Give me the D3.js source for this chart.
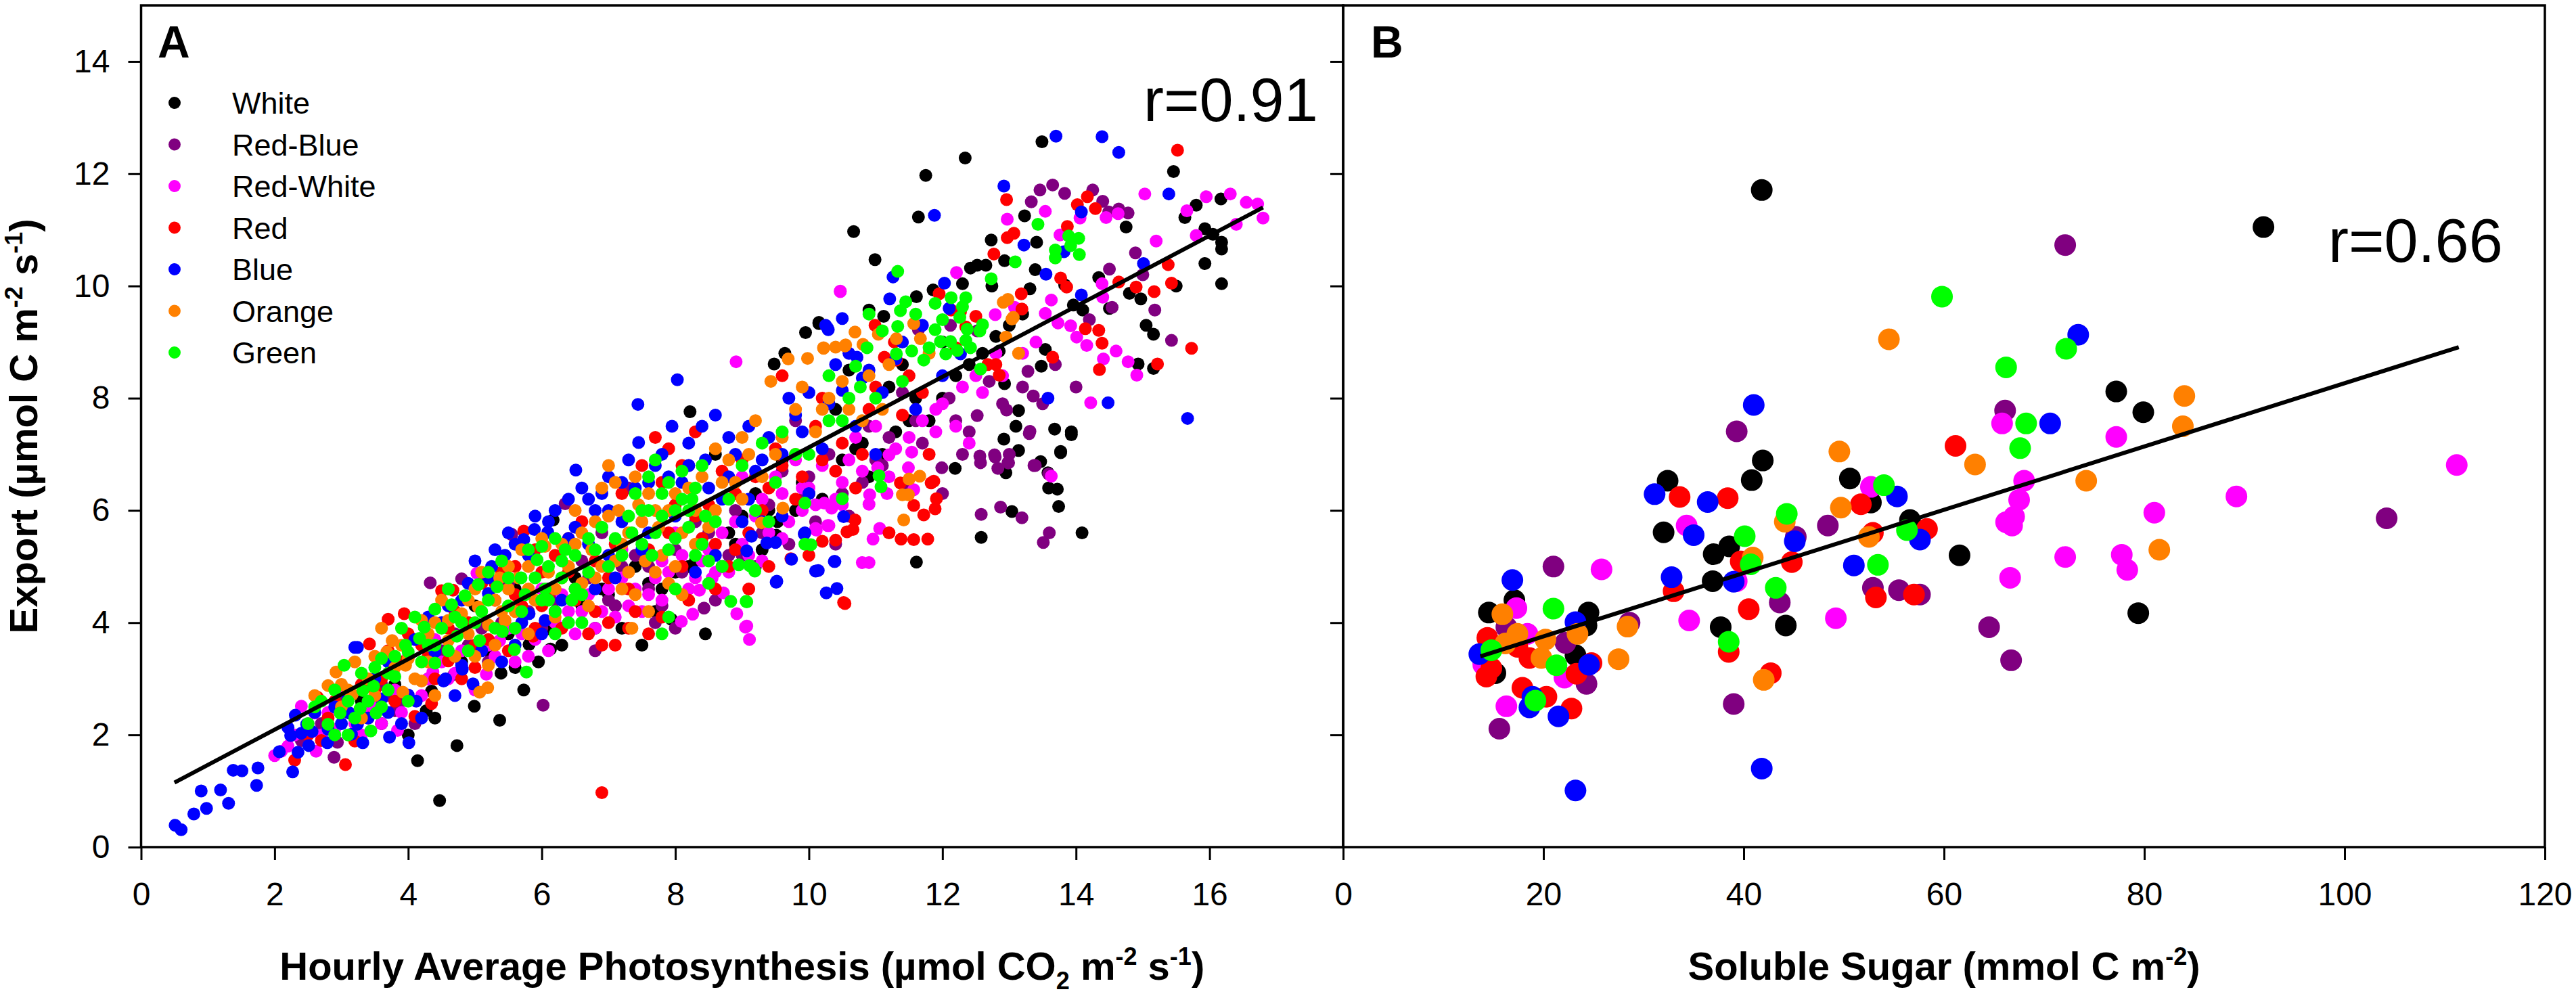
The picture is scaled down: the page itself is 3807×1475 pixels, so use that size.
<!DOCTYPE html>
<html>
<head>
<meta charset="utf-8">
<script src="https://cdn.jsdelivr.net/npm/d3@7/dist/d3.min.js"></script>
<style>
  body { margin: 0; background: #fff; }
  svg text { font-family: "Liberation Sans", Arial, sans-serif; }
</style>
</head>
<body>
<div id="chart"></div>
<script>
// 系列名称与颜色 (图例顺序即绘制顺序)
const seriesNames = ['White', 'Red-Blue', 'Red-White', 'Red', 'Blue', 'Orange', 'Green']
const seriesColors = ['#000000', '#800080', '#ff00ff', '#ff0000', '#0000ff', '#ff8000', '#00ff00']

// A: Hourly Average Photosynthesis vs Export
const photoWhite = [[4.47,0.83],[4.14,1.54],[4.73,1.81],[5.37,2.26],[4.99,2.51],[5.73,2.8],[5.95,3.3],[6.13,3.53],[5.81,3.61],[5.39,3.1],[4.27,2.43],[4.35,2.78],[4.69,3.08],[6.09,3.89],[6.17,5.83],[3.3,2.6],[3.8,2.9],[5,4.3],[5.6,4.6],[6.6,4.3],[6.9,4.6],[7.2,3.9],[7.5,3.6],[7.94,4.06],[8.45,3.8],[7.8,4.6],[8.2,5],[8.8,5.6],[9.2,6.3],[9.6,6.9],[9.9,6.5],[8.6,7],[8.22,7.76],[9.48,8.61],[9.64,8.8],[10.15,9.35],[9.95,9.17],[9.53,5.8],[9.51,5.56],[11.61,5.08],[12.58,5.52],[13.04,5.98],[14.09,5.6],[13.74,6.07],[13.59,6.4],[13.72,6.38],[13.58,6.67],[13.47,6.87],[13.77,7.03],[13.93,7.35],[13.14,7.07],[12.95,6.67],[12.19,6.75],[12.92,7.27],[13.68,7.45],[13.93,7.4],[13.77,7.05],[13.14,7.78],[13.54,8.87],[13.48,8.57],[12.93,8.26],[12.85,8.84],[13.31,9.95],[13.39,10.29],[13.83,10.02],[12.73,10.82],[12.93,10.45],[13.41,10.78],[12.42,10.32],[12.3,10.04],[12.65,10.37],[12.52,10.37],[12.74,10],[11.86,9.93],[11.61,9.81],[10.9,9.57],[11.12,9.46],[10.15,9.33],[13.49,12.57],[12.34,12.28],[11.75,11.97],[15.46,12.04],[11.64,11.23],[10.67,10.97],[10.99,10.47],[13.23,11.25],[14.75,11.05],[15.8,11.44],[16.17,11.55],[15.63,11.22],[15.93,11.02],[16.05,10.92],[16.18,10.78],[16.18,10.66],[15.93,10.4],[16.18,10.04],[14.8,9.87],[14.97,9.77],[14.34,10.15],[15.05,9.3],[15.16,9.14],[14.93,8.61],[15.16,8.53],[14.1,9.57],[13.96,9.66],[10.4,7.8],[10.8,7.2],[11.2,8.2],[11.5,7.6],[12,8],[10.6,8.5],
  [3.6,2.2],[4,2],[4.4,2.3],[5.2,3.5],[5.6,3.2],[6.3,3.6],[6.5,4.8],[6.8,3.9],[7.1,4.3],[7.4,5],[7.7,4.2],[8,4.9],[8.4,5.4],[8.7,5],[9,5.9],[9.3,5.3],[9.8,6],[10.2,6.2],[10.5,6.9],[10.9,6.6],[11.3,7.4],[11.8,7.6],[12.2,8.4],[12.6,8.8],[13,9.3],[12,9],[11.4,8.6],[14.5,9.6],[15.5,10],[13.1,7.5],
  [4.8,3.3],[5.5,3.8],[6.2,4.2],[7,4.5],[7.6,4.7],[8.3,5.1],[8.9,5.4],[9.4,6],[10,6.3],[10.7,7.1],[11.1,7],[11.6,8],[12.4,8.6],[12.8,9.1],[13.2,9.5]]
const photoRedBlue = [[2.89,1.6],[2.94,1.87],[4.33,4.71],[4.8,4.78],[5.55,5.57],[6.02,2.53],[3.8,2.43],[5.54,5.58],[6.35,6.12],[8.43,4.26],[7,4.4],[7.6,5],[8,3.9],[9,5.2],[9.4,6.1],[10,6.6],[10.4,5.4],[10.6,5.9],[11,6.9],[11.99,6.76],[12.56,6.97],[12.57,6.85],[12.79,6.95],[12.99,6.85],[12.83,6.75],[13.37,6.8],[13.3,7.37],[12.58,5.93],[12.87,6.06],[13.19,5.87],[13.6,5.6],[13.51,5.43],[13.36,8.04],[13.31,7.41],[13.39,6.8],[13.59,6.65],[13.69,8.6],[13.28,8.48],[12.52,7.69],[12.78,6.99],[12.98,6.85],[12.96,7.79],[12.12,9.3],[12.52,9.2],[11.64,9.22],[14.54,9.62],[14.89,10.59],[15.18,9.57],[15.43,9.03],[13.46,11.71],[13.65,11.8],[13.83,11.65],[13.33,11.5],[14.25,11.71],[14.4,11.51],[14.49,11.32],[14.78,11.3],[14.64,11.37],[3.2,2.3],[3.6,2.9],[4.1,2.2],[5.1,3.9],[6.6,5.1],[7.3,6.4],[8.2,6.8],[9.8,7.6],[11.4,8.1],[10.9,7.5],[11.5,6.4],[12.2,7.6],[14.2,9.4],[15,10.2],[2.4,1.9],[3,2.6],[4.5,3.5],[5.8,4.2],[6.8,3.5],[7.8,4.3],[9.7,5.4],
  [2.7,2.2],[3.4,2.6],[3.9,2.6],[4.3,3],[4.7,3.8],[5.2,3.3],[5.5,4.7],[6,3.9],[6.2,4.4],[6.5,4.6],[6.9,5.6],[7.1,4.3],[7.4,5.2],[7.7,4],[8,5.3],[8.3,5.8],[8.6,4.4],[8.9,6],[9.2,5],[9.6,6.7],[10.1,5.8],[10.3,7],[10.8,6.5],[11.2,7.3],[11.7,7.2],[12,6.3],[12.3,7],[12.7,8.3],[13,7],[13.5,7.9],[14,8.2],[14.5,10.3],
  [3.1,2.4],[3.7,2.7],[4.9,3.6],[5.4,4],[6.1,4.6],[6.7,4.8],[7.2,5],[7.6,4.6],[8.1,4.9],[8.5,5.6],[8.8,5.2],[9.3,5.6],[9.9,6.2],[10.5,6.3],[11.1,6.8],[11.6,7.6],[12.1,8],[12.4,7.4],[12.9,7.9],[13.2,8.2]]
const photoRedWhite = [[2,1.63],[2.1,1.71],[2.62,1.71],[2.4,2.51],[2.6,2.39],[3.84,2.08],[5.17,3.08],[5.37,3.68],[5.03,4.88],[4.37,3.12],[2.2,1.8],[2.5,2.2],[2.9,2.1],[3.2,2.2],[3.5,2.5],[4,3.4],[4.6,3],[5.8,3.4],[6.2,4],[6.5,3.8],[6.9,4.2],[7.4,4.6],[7.8,4.4],[8.72,4.53],[8.92,4.16],[9.05,3.92],[8.55,4.79],[8.36,4.58],[8.26,4.15],[8.09,4.02],[9.07,3.94],[9.11,3.7],[10.47,9.9],[8.91,8.65],[10.11,5.65],[10.28,5.73],[10.8,5.07],[10.9,5.07],[10.96,5.49],[11.06,5.68],[10.1,5.68],[10.3,5.73],[10.9,6.11],[11.17,6.3],[11.03,6.76],[10.23,6.13],[10.34,6.04],[10.91,6.28],[11.57,6.37],[11.49,6.76],[11.2,6.99],[11.54,7.04],[13.63,6.61],[9.2,5.9],[9.6,6.3],[9,6.6],[9.9,6],[10.5,6.5],[11.9,7.4],[12.4,7.2],[12.97,11.19],[13.54,11.33],[14.06,11.21],[14.45,11.22],[14.63,11.29],[15.03,11.64],[15.66,11.34],[15.95,11.59],[16.31,11.64],[16.55,11.49],[16.72,11.46],[16.8,11.21],[14.39,10.04],[14.78,8.65],[14.91,8.41],[14.6,8.84],[14.41,8.7],[14.16,8.94],[14.01,9.09],[13.92,9.29],[13.73,9.34],[13.63,9.75],[14.22,7.92],[13.54,9.51],[12.79,9.49],[13.08,9.62],[13.76,10.91],[12.21,10.24],[10.47,9.91],[7.2,5.3],[8,5.6],[6,4.6],[4.4,3.7],[3,2.8],
  [2.3,2],[2.7,2],[3.3,2],[3.6,2.2],[3.9,2.4],[4.2,2.7],[4.5,3.3],[4.8,3.5],[5,2.8],[5.3,3.4],[5.5,3.9],[5.6,3.3],[5.9,3.7],[6.1,3.5],[6.4,4.2],[6.7,4.5],[6.8,3.9],[7,4.6],[7.1,4.1],[7.3,4.3],[7.6,4.5],[7.7,4.8],[7.9,4.9],[8.1,5.2],[8.3,4.8],[8.5,5.3],[8.7,5.6],[8.8,4.9],[9,5.4],[9.3,5.1],[9.4,5.6],[9.5,6.6],[9.7,5.8],[9.8,6.9],[10,6.4],[10.2,6.8],[10.4,6.2],[10.6,6.9],[10.7,7.3],[11,7.5],[11.3,7.1],[11.7,7.6],[12,7.9],[12.3,8.2],[12.6,8.1],[12.9,8.4],[13.2,8.8],[14.4,9.8],[15.2,10.8],[15.8,10.9],[16.4,11.1],
  [2.8,2.4],[3.4,2.4],[3.8,2.8],[4.3,3],[4.7,3.1],[5.2,3.6],[5.7,3.8],[6.3,4.5],[6.6,4.2],[7.2,4.8],[7.5,4.2],[7.8,5.1],[8.2,4.6],[8.4,5.1],[8.6,4.9],[8.9,5.8],[9.1,5.2],[9.3,6.2],[9.6,5.5],[9.9,6.4],[10.1,6.1],[10.5,6.1],[10.8,6.7],[11.2,6.6],[11.5,7.3],[11.9,7.8],[12.2,7.5],[12.5,8.4],[12.8,8.8],[13.4,9]]
const photoRed = [[2.3,1.55],[3.06,1.47],[2.64,2.67],[3.7,4.06],[3.94,4.16],[3.42,3.62],[4.5,4.57],[4.67,4.58],[5.73,5.63],[4.35,2.56],[4.1,2.33],[3.2,1.89],[5.87,3.76],[4.6,3.32],[6.9,0.97],[2.8,2.3],[3.3,2.9],[3.9,3.3],[4.9,4],[5.3,4.4],[5.5,3.5],[6,4.9],[6.4,5.5],[6.8,4.2],[7,4],[7.3,3.9],[6.9,3.6],[7.7,7.3],[7.9,7.1],[8.1,6.8],[8.3,7.4],[7.8,6.5],[8.5,6.1],[9,6.9],[9.73,5.14],[10.54,4.34],[10.52,4.36],[10.2,5.45],[10.4,5.47],[10.57,5.62],[10.66,5.66],[10.69,5.83],[11.38,5.49],[11.57,5.48],[11.78,5.49],[11.83,6.49],[11.87,6.52],[11.91,6.21],[11.89,6.03],[11.72,5.92],[11.57,6.09],[11.37,6.49],[9.6,8.4],[10.2,8],[12.96,11.54],[14.02,11.45],[14.17,11.59],[14.29,11.38],[15.52,12.42],[15.38,10.38],[15.43,10.05],[15.17,9.9],[14.9,9.98],[14.64,10.07],[15.73,8.89],[15.22,8.61],[14.35,8.51],[14.39,8.98],[14.34,9.21],[14.14,9.24],[13.65,8.73],[12.85,8.41],[12.68,8.6],[12.8,8.6],[13.18,9.86],[13.19,9.59],[13.77,10.14],[13.86,9.98],[12.77,10.57],[12.97,10.86],[13.07,10.94],[13.87,11.06],[11.95,9.86],[10.99,9.3],[12.13,9.57],[12.27,9.54],[12.5,9.46],[12.35,9.27],[11.28,9],[11.31,8.68],[11.13,8.73],[8.8,5],[9.3,6],[5,3.2],
  [2.5,2],[2.7,1.9],[3,2.4],[3.4,2.3],[3.6,3],[3.8,2.6],[4,3.8],[4.2,3.6],[4.4,3],[4.7,4.2],[4.8,3],[5.1,4.7],[5.2,3.7],[5.4,4.9],[5.6,5],[5.7,4.3],[5.9,3.9],[6.1,4.5],[6.2,5.2],[6.3,3.9],[6.5,4.4],[6.6,5.8],[6.7,3.8],[7,4.8],[7.1,3.6],[7.2,6.3],[7.4,4.2],[7.5,6.8],[7.6,3.8],[7.8,4.1],[8,6.1],[8.2,4.4],[8.4,5.5],[8.6,4.6],[8.7,6.7],[8.9,5.3],[9.1,4.6],[9.2,6.6],[9.4,5],[9.5,7.1],[9.8,6.2],[10,5.2],[10.1,7.5],[10.4,6.7],[10.7,6.4],[10.9,7.8],[11.2,5.6],[11.5,8.4],[11.8,7],[12.2,8.9],
  [2.9,2.6],[3.5,2.8],[3.7,3.5],[4.3,3.4],[4.6,3.9],[5,3.6],[5.3,4.7],[5.6,4.5],[5.9,5.3],[6,4.3],[6.4,4.9],[6.8,5.1],[7.1,5.4],[7.3,4.6],[7.6,5.3],[7.9,5.6],[8.1,5],[8.3,5.9],[8.6,5.4],[8.9,6.3],[9.1,5.6],[9.4,6.4],[9.6,6.8],[9.9,6.6],[10.2,6.9],[10.5,7.2],[10.8,7],[11,8.2],[11.4,7.7],[11.7,8.1]]
const photoBlue = [[0.51,0.39],[0.6,0.31],[0.79,0.59],[0.98,0.69],[0.9,1],[1.19,1.02],[1.31,0.78],[1.38,1.37],[1.51,1.36],[1.75,1.41],[1.73,1.1],[2.27,1.34],[2.07,1.7],[2.35,1.69],[2.2,2.13],[2.31,2.35],[2.51,1.81],[2.79,1.86],[3.32,1.86],[3.72,1.96],[4.01,1.86],[3.15,2.01],[2.56,2.06],[4.56,3],[4.81,3.17],[4.97,2.91],[3.24,3.56],[4.12,2.6],[4,2.71],[4.4,3.48],[4.53,2.96],[4.8,3.24],[5.2,4.52],[5.25,5],[5.45,5.2],[5.73,5.48],[5.89,5.66],[6.09,5.61],[5.81,4.16],[6.05,4.04],[3.24,2.19],[3.12,2.39],[3.6,2.64],[2.4,2.03],[2.24,1.99],[2.48,2.19],[3.2,3.56],[6.51,6.72],[7.45,7.21],[7.44,7.89],[8.03,8.33],[6.4,6.2],[6.8,6],[7.2,5.8],[7.6,5.6],[8,5.9],[7.95,7.5],[8.2,7.2],[8.45,6.9],[8.8,6.6],[9.1,6.2],[9.3,5.8],[9.5,5.43],[9.52,4.74],[10.14,4.93],[10.26,4.53],[10.42,4.61],[10.38,5.09],[9.93,5.58],[9.51,4.72],[10.1,4.92],[10.39,5.09],[9.74,5.13],[9.94,5.6],[10.52,5.89],[9.37,5.42],[9.14,5.54],[9.07,5.28],[10.28,9.25],[10.5,9.42],[10.25,9.3],[10.29,9.22],[11.21,9.77],[11.26,10.16],[12.03,10.05],[12.27,8.79],[10.72,8.73],[10.8,8.36],[10.5,8.14],[13.55,10.21],[13.22,10.73],[13.82,10.61],[14.08,9.84],[15.01,10.4],[14.08,11.32],[15.39,11.64],[12.92,11.78],[11.88,11.26],[13.7,12.67],[14.39,12.66],[14.64,12.38],[14.48,7.92],[15.67,7.64],[13.58,8],[6.8,4.6],[7,5.2],[8.6,5.2],[11,7],[11.6,7.8],[12,8.4],[5.6,3.6],
  [2.6,2.4],[2.9,2.5],[3,2.2],[3.4,2.3],[3.5,3],[3.7,2.4],[3.9,2.2],[4.2,2.3],[4.3,4.1],[4.6,4.3],[4.7,2.7],[4.9,4.7],[5,5.1],[5.1,3.5],[5.3,5.3],[5.4,3.3],[5.5,5.6],[5.7,4],[5.9,5.9],[6,3.8],[6.2,6],[6.3,4.4],[6.5,5.7],[6.6,6.4],[6.7,5.4],[6.9,6.3],[7,6.6],[7.1,4.8],[7.3,6.9],[7.4,6.4],[7.5,5.3],[7.7,6.8],[7.8,7],[8.1,6.5],[8.3,4.9],[8.4,7.5],[8.6,7.7],[8.7,6.2],[8.9,7],[9,5.8],[9.2,6.7],[9.4,7.3],[9.6,5.9],[9.7,8],[9.9,7.4],[10,6.3],[10.2,7.1],[10.4,8.6],[10.7,7.5],[11.1,8.1],[11.4,9],
  [2.8,2.1],[3.1,2.7],[3.7,3.3],[4.1,3.7],[4.5,4],[4.8,4.4],[5.2,4.8],[5.6,5.4],[5.8,5.2],[6.1,5.8],[6.4,5.5],[6.7,6.2],[7,6],[7.2,6.5],[7.6,6.5],[7.9,6.6],[8.2,6.8],[8.5,6.4],[8.8,7.3],[9.1,7.5],[9.3,6.9],[9.6,7],[9.8,7.7],[10,8.1],[10.3,7.9],[10.6,8.8],[10.9,8.5],[11.3,8.7],[11.7,9.3],[12.1,9.6]]
const photoOrange = [[5.07,2.76],[5.19,2.84],[5,3.4],[5.2,3.24],[4.2,2.96],[3.92,2.76],[3.96,3.24],[4,3.36],[3.76,3.68],[3.68,3.48],[3.16,2.72],[2.8,2.88],[2.92,3.12],[4.6,4.04],[4.8,4.16],[5.05,4.28],[5.2,3.96],[5.45,4.04],[5.65,4.8],[5.37,4.8],[5.8,5],[6.05,5.36],[4.2,4.04],[4.4,4],[4.6,3.68],[5,4.6],[5.3,4.4],[5.6,4.2],[6.2,4.6],[6.4,5],[6.6,5.6],[6.9,6.4],[7,6.8],[7.15,6],[7.2,5.4],[7.3,4.9],[7.4,4.5],[7.5,5.8],[7.6,6.3],[7.8,5.2],[7.9,4.7],[8.1,5.6],[8.3,6],[6.7,4.3],[6.8,4.8],[7.35,3.9],[8.7,6.5],[9.43,8.3],[9.69,8.7],[9.98,8.71],[10.22,8.89],[10.4,8.91],[10.54,8.93],[9,7.3],[9.29,5.78],[9.61,6.04],[11.42,5.83],[11.4,6.28],[11.49,6.28],[11.5,6.56],[11.66,6.61],[11.04,9.14],[10.69,9.18],[10.55,8.95],[10.22,8.9],[10.81,8.96],[11.57,9.33],[11.31,9.06],[11.67,9.06],[12.91,9.71],[12.98,9.76],[13.06,9.44],[13.04,9.41],[12.95,9.09],[13.14,8.8],[9.8,7.8],[10.1,7.4],[8.6,7.1],[3.4,3],[3,2.5],[3.3,2.3],
  [3,2.9],[3.2,3.3],[3.5,2.7],[3.6,3.9],[3.8,3.2],[4.1,3],[4.3,3.3],[4.5,4.4],[4.7,3.4],[4.9,3.8],[5.1,4.9],[5.3,3.6],[5.5,4.6],[5.7,5.3],[5.9,4.4],[6.1,4.9],[6.3,5.4],[6.5,6],[6.6,4.7],[6.75,5.3],[6.9,5],[7,5.9],[7.1,6.5],[7.2,4.6],[7.3,5.6],[7.45,6.1],[7.55,5.1],[7.7,4.9],[7.75,5.7],[7.9,6],[8,5],[8.2,6.4],[8.4,6.6],[8.5,5.7],[8.8,6.9],[9,6.2],[9.2,7.6],[9.5,7],[9.9,8.2],[10.3,8],[10.6,7.8],[10.9,8.4],[11.2,8.6],[6.2,4.1],[5.8,3.8],[4.4,2.7],[7.6,4.2],[8.1,4.5],
  [2.6,2.7],[3.1,2.8],[3.5,3.4],[3.9,3.6],[4.3,3.8],[4.6,4.6],[4.9,4.4],[5.4,4.2],[5.5,5],[5.8,4.6],[6,5.5],[6.3,4.8],[6.5,5.4],[6.8,5.8],[7.1,5.1],[7.4,6.6],[7.7,6],[8,6.3],[8.3,5.4],[8.6,6],[8.9,6.5],[9.1,7],[9.3,6.6],[9.6,7.3],[9.8,7],[10.2,7.8],[10.5,8.3],[10.8,7.6],[11.1,7.8],[11.8,8.8]]
const photoGreen = [[2.8,2.19],[2.98,2.39],[3.44,2.07],[3.52,2.39],[3.32,2.79],[3.04,3.24],[3.6,3.36],[3.8,3.04],[3.96,3.6],[4.24,3.92],[4.4,4.24],[4.65,4.32],[4.85,4.48],[5.05,4.68],[5.33,4.64],[5.69,4.8],[5.93,5.12],[6,5.36],[4.4,3.28],[4.73,3.76],[5.41,3.84],[5.59,3.52],[5.77,3.12],[5.07,3.68],[4.17,3.72],[4,3.48],[3.48,2.87],[3.28,2.47],[5.8,5.3],[6.1,5],[6.3,4.8],[6.5,5.2],[6.7,4.9],[6,4.4],[6.2,4.2],[6.4,4],[6.6,4.5],[7.6,6.6],[7.8,6.3],[8,6],[8.2,5.7],[8.4,5.4],[8.5,5.1],[7.7,5.6],[7.9,5.3],[8.1,6.7],[8.3,6.4],[7.5,6],[8.83,4.38],[9.06,4.38],[8.95,5.03],[9.17,4.97],[9.07,4.37],[9.11,5.02],[9.19,4.92],[9.94,5.4],[9.94,6.13],[10.5,6.21],[11.08,6.42],[11.05,6.62],[10.03,5.39],[9.3,7.2],[9.6,7.4],[11.33,10.26],[12.73,10.13],[11.45,9.72],[11.37,9.56],[11.33,9.28],[11.89,9.69],[12.13,9.79],[12.35,9.79],[12.3,9.63],[12.26,9.44],[12.37,9.23],[12.56,9.2],[12.6,9.31],[12.35,9.03],[12.42,8.9],[12.57,8.52],[11.89,9.22],[12.12,9.01],[12.22,8.85],[11.97,9.01],[12.05,8.79],[11.72,8.68],[11.54,8.84],[11.31,8.79],[10.87,8.9],[10.7,8.57],[10.77,8.2],[13.09,10.43],[13.43,11.1],[13.69,10.64],[13.69,10.5],[13.89,10.89],[14.04,10.85],[14.05,10.56],[13.92,10.72],[2.6,2.5],[3.1,2],[2.5,2.2],
  [2.7,2.6],[2.9,2.8],[3.1,2.6],[3.3,3.1],[3.5,3.2],[3.7,2.8],[3.9,3.9],[4.1,4.1],[4.3,3.6],[4.5,3.9],[4.6,4.6],[4.8,4],[4.9,3.5],[5.1,4.2],[5.2,4.9],[5.4,5.1],[5.5,4.3],[5.6,3.9],[5.75,4.5],[5.9,4.8],[6.05,4.6],[6.2,5.5],[6.35,5.3],[6.5,4.6],[6.8,5.3],[6.9,5.7],[7,5],[7.1,5.5],[7.3,5.9],[7.4,6.3],[7.5,5.4],[7.6,6],[7.7,6.9],[7.8,5.9],[7.9,6.5],[8,5.5],[8.1,6.2],[8.2,6],[8.3,5.2],[8.4,6.8],[8.5,4.7],[8.6,5.8],[8.7,5],[8,4.6],[7.9,4.1],[7.8,3.8],[6.6,4],[6.2,3.8],[3.7,3.1],[2.9,2],[4,2.6],[10.9,9.5],[11.1,9.2],[11.6,9.5],[11.8,8.9],[12,9.4],[10.3,8.4],[10.5,7.6],[9.8,7],[9.5,6.5],[9.2,6],
  [3.2,2.3],[3.4,2.6],[3.6,2.5],[3.8,3.4],[4.2,3.3],[4.4,3.6],[4.6,3.5],[4.7,4.1],[5,4],[5.2,4.4],[5.3,3.9],[5.5,4.8],[5.7,4.2],[6.1,4.4],[6.3,5.1],[6.45,4.4],[6.7,5.5],[7.2,5.2],[7.35,5.6],[7.65,5.2],[8.25,6.2],[8.45,5.9],[8.8,6.2],[9,6.8],[9.4,5.8],[10,7],[10.3,7.6],[10.6,8],[11,8],[11.4,8.3]]

// B: Soluble Sugar vs Export
const sugarWhite = [[41.8,11.71],[91.9,11.05],[41.9,6.89],[40.8,6.54],[50.6,6.57],[52.7,6.14],[32.4,6.53],[32,5.61],[38.55,5.36],[37,5.22],[36.9,4.74],[37.7,3.92],[44.2,3.95],[77.2,8.12],[79.9,7.75],[56.6,5.83],[61.55,5.2],[79.4,4.17],[15.2,3.1],[14.55,4.18],[17.1,4.4],[24.5,4.18],[24.3,3.95],[23.2,3.42]]
const sugarRedBlue = [[39.3,7.41],[45.2,5.53],[48.4,5.73],[52.9,4.62],[43.6,4.36],[39,2.55],[15.6,2.11],[16.3,3.92],[21,5],[22.2,3.64],[24.3,2.91],[28.6,4],[72.1,10.73],[66.1,7.78],[104.2,5.86],[55.5,4.58],[57.6,4.5],[64.5,3.92],[66.7,3.33],[14,3.31]]
const sugarRedWhite = [[52.7,6.42],[34.3,5.73],[49.2,4.08],[39.3,4.74],[34.55,4.04],[16.3,2.51],[22.1,3.02],[17.3,4.26],[25.8,4.95],[18.4,3.8],[14,3.25],[65.8,7.55],[77.2,7.31],[111.2,6.81],[68,6.53],[67.5,6.19],[89.2,6.25],[81,5.96],[67,5.89],[66.2,5.79],[66.8,5.73],[72.1,5.17],[77.75,5.21],[78.3,4.94],[66.6,4.8]]
const sugarRed = [[33.6,6.24],[38.4,6.22],[39.7,5.09],[44.8,5.08],[51.7,6.11],[52.9,5.6],[53.2,4.45],[40.5,4.24],[33,4.56],[38.5,3.48],[42.7,3.1],[20.3,2.68],[17.9,2.84],[22.8,2.47],[23.3,3.09],[24.8,3.28],[18.6,3.37],[14.3,3.04],[14.8,3.19],[14.4,3.73],[17.4,3.57],[61.15,7.15],[58.3,5.67],[57,4.5]]
const sugarBlue = [[41,7.88],[31.1,6.29],[36.4,6.15],[35,5.56],[45.1,5.45],[51,5.02],[39,4.73],[32.8,4.81],[41.8,1.4],[23.2,1.01],[18.6,2.49],[18.9,2.68],[21.5,2.33],[24.55,3.25],[13.6,3.44],[16.9,4.76],[23.2,4.01],[73.4,9.13],[70.6,7.55],[55.3,6.25],[57.6,5.48]]
const sugarOrange = [[49.55,7.05],[49.7,6.05],[40.9,5.16],[44.1,5.8],[52.5,5.53],[42,2.98],[19.8,3.37],[15.9,4.15],[23.4,3.8],[20.2,3.7],[17.4,3.8],[16.2,3.63],[28.4,3.93],[27.5,3.35],[54.5,9.05],[84,8.04],[83.85,7.5],[63.1,6.82],[74.2,6.53],[81.5,5.3]]
const sugarGreen = [[54,6.45],[40.1,5.54],[40.7,5.04],[44.3,5.94],[53.4,5.03],[43.2,4.62],[38.5,3.66],[19.2,2.61],[21.3,3.24],[14.8,3.51],[21,4.25],[59.8,9.81],[72.2,8.88],[66.2,8.55],[68.2,7.55],[67.6,7.11],[56.3,5.65]]

// 回归线端点
const fitA = [[0.5, 1.15], [16.8, 11.4]]
const fitB = [[13.7, 3.4], [111.4, 8.91]]
const rTextA = 'r=0.91'
const rTextB = 'r=0.66'

// 刻度
const ticksXA = [0, 2, 4, 6, 8, 10, 12, 14, 16]
const ticksXB = [0, 20, 40, 60, 80, 100, 120]
const ticksY = [0, 2, 4, 6, 8, 10, 12, 14]

const photoData = [photoWhite, photoRedBlue, photoRedWhite, photoRed, photoBlue, photoOrange, photoGreen]
const sugarData = [sugarWhite, sugarRedBlue, sugarRedWhite, sugarRed, sugarBlue, sugarOrange, sugarGreen]

const width = 3807
const height = 1475
const plotTop = 8
const plotBottom = 1252

const svg = d3.select('#chart').append('svg')
  .attr('width', width)
  .attr('height', height)
  .style('background', '#fff')

const y = d3.scaleLinear().domain([0, 15]).range([plotBottom, plotTop])
const xA = d3.scaleLinear().domain([0, 18]).range([208.5, 1985])
const xB = d3.scaleLinear().domain([0, 120]).range([1985, 3761])

// 画一个面板: 散点, 回归线, 坐标轴, 边框
function drawPanel(x, data, fit, dotR, ticksX, showYLabels) {
  const g = svg.append('g')

  data.forEach((pts, i) => {
    g.append('g').selectAll('circle').data(pts).enter().append('circle')
      .attr('cx', d => x(d[0]))
      .attr('cy', d => y(d[1]))
      .attr('r', dotR)
      .attr('fill', seriesColors[i])
  })

  g.append('path')
    .datum(fit)
    .attr('d', d3.line().x(d => x(d[0])).y(d => y(d[1])))
    .attr('stroke', '#000')
    .attr('stroke-width', 6)
    .attr('fill', 'none')

  const xAxis = g.append('g')
    .attr('transform', 'translate(0,' + plotBottom + ')')
    .call(d3.axisBottom(x).tickValues(ticksX).tickSize(19).tickSizeOuter(0).tickPadding(33))
  xAxis.select('.domain').remove()

  const yAxis = g.append('g')
    .attr('transform', 'translate(' + x.range()[0] + ',0)')
    .call(d3.axisLeft(y).tickValues(ticksY).tickSize(19).tickSizeOuter(0).tickPadding(27)
      .tickFormat(showYLabels ? d3.format('d') : () => ''))
  yAxis.select('.domain').remove()

  ;[xAxis, yAxis].forEach(ax => {
    ax.selectAll('line').attr('stroke', '#000').attr('stroke-width', 3)
    ax.selectAll('text').attr('fill', '#000')
      .style('font-size', '48px')
      .style('font-family', '"Liberation Sans", Arial, sans-serif')
  })

  g.append('rect')
    .attr('x', x.range()[0])
    .attr('y', plotTop)
    .attr('width', x.range()[1] - x.range()[0])
    .attr('height', plotBottom - plotTop)
    .attr('fill', 'none')
    .attr('stroke', '#000')
    .attr('stroke-width', 3.5)
  return g
}

drawPanel(xA, photoData, fitA, 9.5, ticksXA, true)
drawPanel(xB, sugarData, fitB, 16, ticksXB, false)

// 面板字母
svg.append('text').text('A').attr('x', 233).attr('y', 85)
  .style('font-size', '66px').style('font-weight', 'bold')
svg.append('text').text('B').attr('x', 2026).attr('y', 85)
  .style('font-size', '66px').style('font-weight', 'bold')

// r 值
svg.append('text').text(rTextA).attr('x', 1690).attr('y', 179).style('font-size', '90px')
svg.append('text').text(rTextB).attr('x', 3441).attr('y', 387).style('font-size', '90px')

// 图例
const legend = svg.append('g').attr('transform', 'translate(258,152)')
seriesNames.forEach((name, i) => {
  legend.append('circle').attr('cx', 0).attr('cy', i * 61.5).attr('r', 9).attr('fill', seriesColors[i])
  legend.append('text').attr('x', 85).attr('y', i * 61.5).attr('dy', '0.36em')
    .style('font-size', '45px').text(name)
})

// 坐标轴标题
const xTitleA = svg.append('text')
  .attr('x', (xA.range()[0] + xA.range()[1]) / 2).attr('y', 1448)
  .attr('text-anchor', 'middle')
  .style('font-size', '58px').style('font-weight', 'bold')
xTitleA.append('tspan').text('Hourly Average Photosynthesis (µmol CO')
xTitleA.append('tspan').text('2').style('font-size', '36px').attr('dy', 14)
xTitleA.append('tspan').text(' m').attr('dy', -14)
xTitleA.append('tspan').text('-2').style('font-size', '36px').attr('dy', -22)
xTitleA.append('tspan').text(' s').attr('dy', 22)
xTitleA.append('tspan').text('-1').style('font-size', '36px').attr('dy', -22)
xTitleA.append('tspan').text(')').attr('dy', 22)

const xTitleB = svg.append('text')
  .attr('x', (xB.range()[0] + xB.range()[1]) / 2).attr('y', 1448)
  .attr('text-anchor', 'middle')
  .style('font-size', '58px').style('font-weight', 'bold')
xTitleB.append('tspan').text('Soluble Sugar (mmol C m')
xTitleB.append('tspan').text('-2').style('font-size', '36px').attr('dy', -22)
xTitleB.append('tspan').text(')').attr('dy', 22)

const yTitle = svg.append('text')
  .attr('transform', 'translate(55,' + (plotTop + plotBottom) / 2 + ') rotate(-90)')
  .attr('text-anchor', 'middle')
  .style('font-size', '58px').style('font-weight', 'bold')
yTitle.append('tspan').text('Export (µmol C m')
yTitle.append('tspan').text('-2').style('font-size', '36px').attr('dy', -22)
yTitle.append('tspan').text(' s').attr('dy', 22)
yTitle.append('tspan').text('-1').style('font-size', '36px').attr('dy', -22)
yTitle.append('tspan').text(')').attr('dy', 22)
</script>
</body>
</html>
